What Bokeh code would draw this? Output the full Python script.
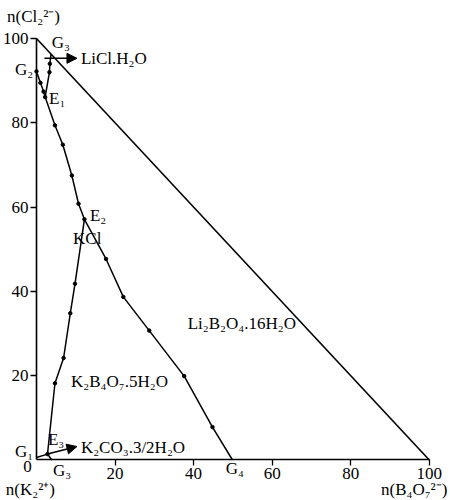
from bokeh.plotting import figure
from bokeh.models import Range1d, FixedTicker, Label, Arrow, NormalHead
from bokeh.embed import file_html
from bokeh.resources import INLINE

# ---- data (Jänecke index coordinates) ----
g2_e1_x = [0.0, 1.0, 1.8, 2.2]
g2_e1_y = [92.2, 89.5, 87.4, 86.1]

g3_e1_x = [3.7, 3.4, 3.3, 2.2]
g3_e1_y = [96.3, 94.0, 92.0, 86.1]

e1_e2_x = [2.2, 4.7, 6.7, 9.0, 10.7, 12.2]
e1_e2_y = [86.1, 79.4, 74.8, 67.5, 60.8, 57.1]

e2_g4_x = [12.2, 17.7, 22.1, 28.7, 37.6, 44.8, 49.9]
e2_g4_y = [57.1, 47.7, 38.7, 30.7, 19.9, 7.8, 0.0]

e2_e3_x = [12.2, 9.8, 8.6, 6.9, 4.7, 2.8]
e2_e3_y = [57.1, 41.8, 34.8, 24.2, 18.2, 1.4]

g1_e3_x = [0.0, 2.8]
g1_e3_y = [0.6, 1.4]

g3b_e3_x = [3.9, 2.8]
g3b_e3_y = [0.0, 1.4]

dots_x = [0.0, 1.0, 1.8, 2.2, 3.4, 3.3, 4.7, 6.7, 9.0, 10.7, 12.2,
          17.7, 22.1, 28.7, 37.6, 44.8, 9.8, 8.6, 6.9, 4.7, 2.8]
dots_y = [92.2, 89.5, 87.4, 86.1, 94.0, 92.0, 79.4, 74.8, 67.5, 60.8, 57.1,
          47.7, 38.7, 30.7, 19.9, 7.8, 41.8, 34.8, 24.2, 18.2, 1.4]

tri_x = [0, 100]
tri_y = [100, 0]

x_ticks = [20, 40, 60, 80, 100]
y_ticks = [20, 40, 60, 80, 100]

FONT = "Liberation Serif"
FS = "17px"

p = figure(width=450, height=500, output_backend="svg", toolbar_location=None,
           x_range=Range1d(-9.165, 105.4), y_range=Range1d(-9.61, 109.02),
           min_border=0)
p.grid.visible = False
p.outline_line_color = None
p.background_fill_color = "white"

for ax in (p.xaxis[0], p.yaxis[0]):
    ax.fixed_location = 0
    ax.bounds = (0, 100)
    ax.axis_line_width = 1.6
    ax.axis_line_color = "black"
    ax.major_tick_line_color = "black"
    ax.major_tick_line_width = 1.3
    ax.major_tick_in = 0
    ax.major_tick_out = 6
    ax.minor_tick_line_color = None
    ax.major_label_text_font = FONT
    ax.major_label_text_font_size = FS
    ax.major_label_text_color = "black"
    ax.major_label_standoff = 2

p.xaxis.ticker = FixedTicker(ticks=x_ticks)
p.yaxis.ticker = FixedTicker(ticks=y_ticks)

# hypotenuse
p.line(tri_x, tri_y, line_color="black", line_width=1.6)

for xs, ys in [(g2_e1_x, g2_e1_y), (g3_e1_x, g3_e1_y), (e1_e2_x, e1_e2_y),
               (e2_g4_x, e2_g4_y), (e2_e3_x, e2_e3_y), (g1_e3_x, g1_e3_y),
               (g3b_e3_x, g3b_e3_y)]:
    p.line(xs, ys, line_color="black", line_width=1.5)

p.scatter(dots_x, dots_y, size=3.5, color="black")

# arrows
p.add_layout(Arrow(end=NormalHead(size=10, fill_color="black", line_color="black"),
                   x_start=2.0, y_start=95.3, x_end=10.3, y_end=95.3,
                   line_width=1.5, line_color="black"))
p.add_layout(Arrow(end=NormalHead(size=10, fill_color="black", line_color="black"),
                   x_start=2.8, y_start=1.4, x_end=10.3, y_end=3.2,
                   line_width=1.5, line_color="black"))

labels = [
    ("LiCl.H₂O", 11.3, 95.3, "left"),
    ("KCl", 9.3, 52.5, "left"),
    ("Li₂B₂O₄.16H₂O", 38.5, 32.4, "left"),
    ("K₂B₄O₇.5H₂O", 8.8, 18.6, "left"),
    ("K₂CO₃.3/2H₂O", 11.3, 3.0, "left"),
    ("G₃", 3.9, 99.0, "left"),
    ("G₂", -5.5, 92.6, "left"),
    ("E₁", 3.2, 85.8, "left"),
    ("E₂", 13.6, 58.0, "left"),
    ("G₁", -5.5, 2.0, "left"),
    ("E₃", 2.9, 4.9, "left"),
    ("G₃", 4.2, -2.6, "left"),
    ("G₄", 48.2, -1.9, "left"),
    ("0", -1.2, -1.6, "right"),
    ("n(Cl₂²⁻)", -7.5, 105.2, "left"),
    ("n(K₂²⁺)", -7.8, -7.0, "left"),
    ("n(B₄O₇²⁻)", 104.6, -7.0, "right"),
]
for txt, x, y, al in labels:
    p.add_layout(Label(x=x, y=y, text=txt, text_font=FONT, text_font_size=FS,
                       text_color="black", text_align=al, text_baseline="middle"))

open("out.html", "w").write(file_html(p, INLINE))
